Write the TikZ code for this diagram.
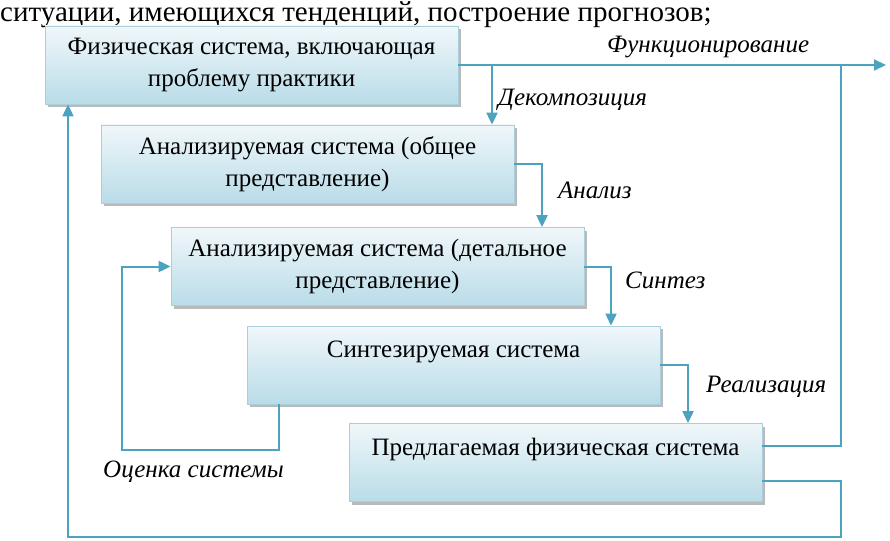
\documentclass[tikz,border=0pt]{standalone}
\usepackage{fontspec}
\setmainfont{Liberation Serif}
\usetikzlibrary{shadows,arrows.meta}
\definecolor{lnc}{HTML}{4BA3BF}
\definecolor{boxtop}{HTML}{F0F7FA}
\definecolor{boxbot}{HTML}{B9DCE8}
\definecolor{boxdraw}{HTML}{A9CFDC}
\tikzset{
 sysbox/.style={draw=boxdraw, line width=0.8pt, top color=boxtop, bottom color=boxbot,
   minimum width=413pt, minimum height=78pt, align=center, inner sep=0pt,
   font=\fontsize{25}{32}\selectfont,
   drop shadow={shadow xshift=3pt, shadow yshift=-3pt, fill=black!45, opacity=0.6}},
 conn/.style={draw=lnc, line width=2pt},
 arr/.style={conn, -{Triangle[length=12pt,width=11pt]}},
 lbl/.style={font=\fontsize{25}{28}\selectfont\itshape, inner sep=0pt, anchor=west},
}
\begin{document}
\begin{tikzpicture}[x=1pt,y=-1pt]
\useasboundingbox (0,0) rectangle (890,540);
\node[anchor=base west, font=\fontsize{29}{32}\selectfont, inner sep=0pt] (top) at (0,22) {ситуации, имеющихся тенденций, построение прогнозов;};

\node[sysbox] (b1) at (251.5,65) {Физическая система, включающая\\проблему практики};
\node[sysbox] (b2) at (307.5,164) {Анализируемая система (общее\\представление)};
\node[sysbox] (b3) at (377.5,266.5) {Анализируемая система (детальное\\представление)};
\node[sysbox] (b4) at (453.5,365) {Синтезируемая система\\\mbox{}};
\node[sysbox] (b5) at (555.5,462.5) {Предлагаемая физическая система\\\mbox{}};

\coordinate (fend) at (886,65);
\coordinate (dec) at (492,65);
\coordinate (a2) at (542,0);
\coordinate (a3) at (611,0);
\coordinate (a4) at (688,0);
\coordinate (r) at (841,0);
\coordinate (bl) at (841,537);
\coordinate (br) at (68,537);
\coordinate (o1) at (279,450);
\coordinate (o2) at (122,450);

\draw[arr] (b1.east) -- (fend);
\draw[arr] (dec) -- (dec |- b2.north);
\draw[arr] (b2.east) -| (a2 |- b3.north);
\draw[arr] (b3.east) -| (a3 |- b4.north);
\draw[arr] (b4.east) -| (a4 |- b5.north);
\draw[conn] ([yshift=17pt]b5.east) -| (r |- b1.east);
\draw[arr] ([yshift=-18pt]b5.east) -| (bl) -- (br) -- (br |- b1.south);
\draw[arr] (o1 |- b4.south) -- (o1) -- (o2) |- (b3.west);

\node[lbl] (lf) at (607,47) {Функционирование};
\node[lbl] (ld) at (498,100) {Декомпозиция};
\node[lbl] (la) at (558,190) {Анализ};
\node[lbl] (ls) at (625,280) {Синтез};
\node[lbl] (lr) at (706,387) {Реализация};
\node[lbl] (lo) at (103,472) {Оценка системы};
\end{tikzpicture}
\end{document}
